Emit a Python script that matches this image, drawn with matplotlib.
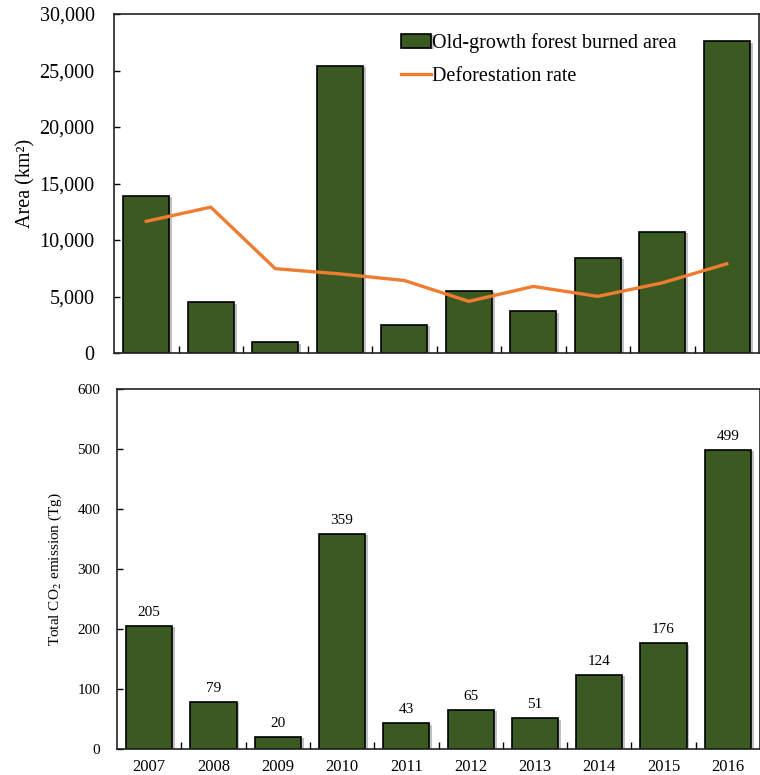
import matplotlib
matplotlib.use("Agg")
import matplotlib.pyplot as plt
import matplotlib.patheffects as pe
import numpy as np

years = ["2007", "2008", "2009", "2010", "2011", "2012", "2013", "2014", "2015", "2016"]
burned_area = [13900, 4500, 950, 25400, 2500, 5500, 3700, 8450, 10700, 27600]
deforestation = [11651, 12911, 7464, 7000, 6418, 4571, 5891, 5012, 6207, 7893]
co2_emission = [205, 79, 20, 359, 43, 65, 51, 124, 176, 499]

plt.rcParams["font.family"] = ["Liberation Serif", "DejaVu Serif"]
plt.rcParams["mathtext.fontset"] = "stix"

GREEN = "#3a5a22"
ORANGE = "#ee7d31"

fig = plt.figure(figsize=(7.6, 7.75), dpi=100)
W, H = 760, 775
ax1 = fig.add_axes([114 / W, 1 - 353 / H, (759 - 114) / W, (353 - 14) / H])
ax2 = fig.add_axes([117 / W, 1 - 749 / H, (760 - 117) / W, (749 - 389) / H])

x = np.arange(len(years))
shadow = [pe.SimplePatchShadow(offset=(2, -1), shadow_rgbFace="#999999", alpha=0.6), pe.Normal()]

bars1 = ax1.bar(x, burned_area, width=0.72, color=GREEN, edgecolor="black",
                linewidth=1.2, label="Old-growth forest burned area", zorder=2)
for b in bars1:
    b.set_path_effects(shadow)
line1, = ax1.plot(x, deforestation, color=ORANGE, linewidth=2.4,
                  label="Deforestation rate", zorder=3)

ax1.set_xlim(-0.5, len(years) - 0.5)
ax1.set_ylim(0, 30000)
ax1.set_yticks(np.arange(0, 30001, 5000))
ax1.set_yticklabels([f"{v:,}" for v in range(0, 30001, 5000)], fontsize=14.5)
ax1.set_ylabel("Area (km²)", fontsize=14.5, labelpad=3)
ax1.set_xticks(x)
ax1.set_xticklabels([])
ax1.tick_params(axis="x", which="major", length=0)
ax1.set_xticks(x[:-1] + 0.5, minor=True)
ax1.tick_params(axis="x", which="minor", direction="in", length=5, width=1)
ax1.tick_params(axis="y", direction="in", length=4, width=1, pad=14)
ax1.legend([bars1, line1], ["Old-growth forest burned area", "Deforestation rate"],
           loc="upper left", bbox_to_anchor=(0.415, 1.0), frameon=False, fontsize=14.5,
           handlelength=1.5, handletextpad=0.05, labelspacing=0.7, borderaxespad=0.55)

bars2 = ax2.bar(x, co2_emission, width=0.72, color=GREEN, edgecolor="black",
                linewidth=1.2, zorder=2)
for b, v in zip(bars2, co2_emission):
    b.set_path_effects(shadow)
    ax2.annotate(str(v), (b.get_x() + b.get_width() / 2, v), xytext=(0, 5),
                 textcoords="offset points", ha="center", va="bottom", fontsize=11)

ax2.set_xlim(-0.5, len(years) - 0.5)
ax2.set_ylim(0, 600)
ax2.set_yticks(np.arange(0, 601, 100))
ax2.tick_params(axis="y", labelsize=11, length=4, width=1, direction="in", pad=12)
ax2.set_ylabel("Total CO$_2$ emission (Tg)", fontsize=11, labelpad=10)
ax2.set_xticks(x)
ax2.set_xticklabels(years, fontsize=12)
ax2.tick_params(axis="x", which="major", length=0, pad=7)
ax2.set_xticks(x[:-1] + 0.5, minor=True)
ax2.tick_params(axis="x", which="minor", direction="in", length=5, width=1)

for ax in (ax1, ax2):
    for s in ax.spines.values():
        s.set_linewidth(1.2)
        s.set_color("#222222")

fig.savefig("out.png", dpi=100)
